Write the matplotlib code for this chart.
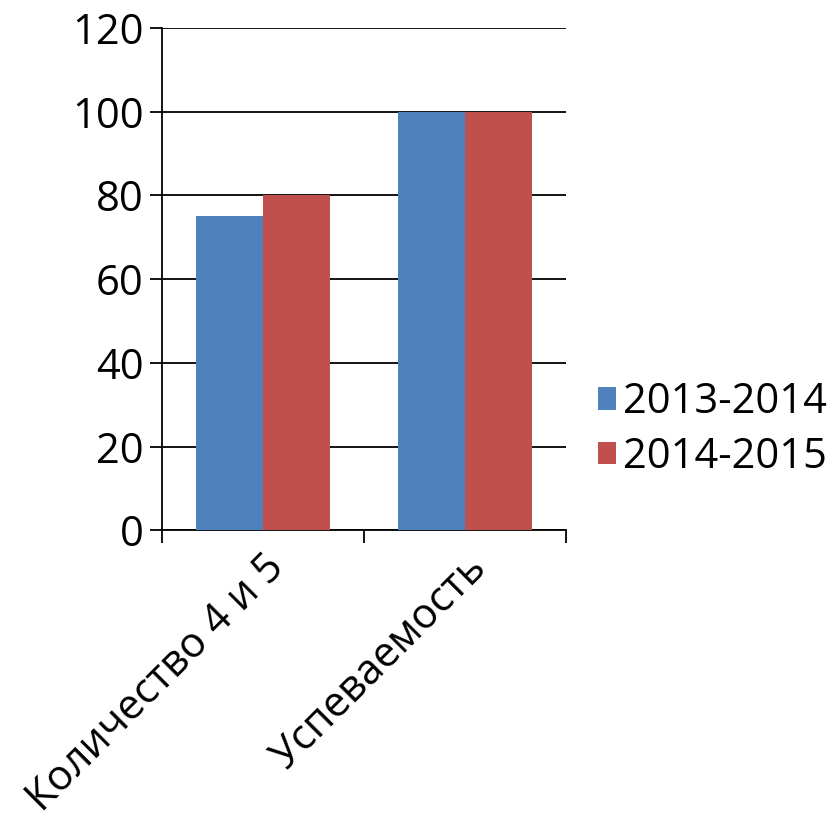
import matplotlib.pyplot as plt
import numpy as np

categories = ["Количество 4 и 5", "Успеваемость"]
series_names = ["2013-2014", "2014-2015"]
values_2013 = [75, 100]
values_2014 = [80, 100]
colors = ["#4F81BD", "#C0504D"]

plt.rcParams['font.family'] = ['Open Sans', 'DejaVu Sans']

fig = plt.figure(figsize=(8.3, 8.26), dpi=100)
ax = fig.add_axes([0.195, 0.358, 0.487, 0.608])

x = np.arange(len(categories))
w = 0.33
ax.bar(x - w / 2, values_2013, w, color=colors[0], label=series_names[0], zorder=3)
ax.bar(x + w / 2, values_2014, w, color=colors[1], label=series_names[1], zorder=3)

ax.set_xlim(-0.5, len(categories) - 0.5)
ax.set_ylim(0, 120)
ax.set_yticks(range(0, 121, 20))
ax.yaxis.grid(True, color="black", linewidth=1.3, zorder=0)
ax.set_axisbelow(True)

ax.set_xticks(x)
ax.set_xticklabels(categories, rotation=45, ha="right", rotation_mode="anchor")
ax.set_xticks(np.arange(-0.5, len(categories), 1), minor=True)
ax.tick_params(axis="x", which="major", length=0, pad=12)
ax.tick_params(axis="x", which="minor", length=9, width=1.3)
ax.tick_params(axis="y", length=9, width=1.3, pad=4)
ax.tick_params(labelsize=30)

for side in ["top", "right"]:
    ax.spines[side].set_visible(False)
for side in ["left", "bottom"]:
    ax.spines[side].set_linewidth(1.3)

ax.legend(loc="center left", bbox_to_anchor=(0.7, 0.48), bbox_transform=fig.transFigure,
          frameon=False, fontsize=30, handlelength=0.45, handleheight=0.45,
          handletextpad=0.15, labelspacing=0.3, borderaxespad=0)

fig.savefig("out.png", dpi=100)
